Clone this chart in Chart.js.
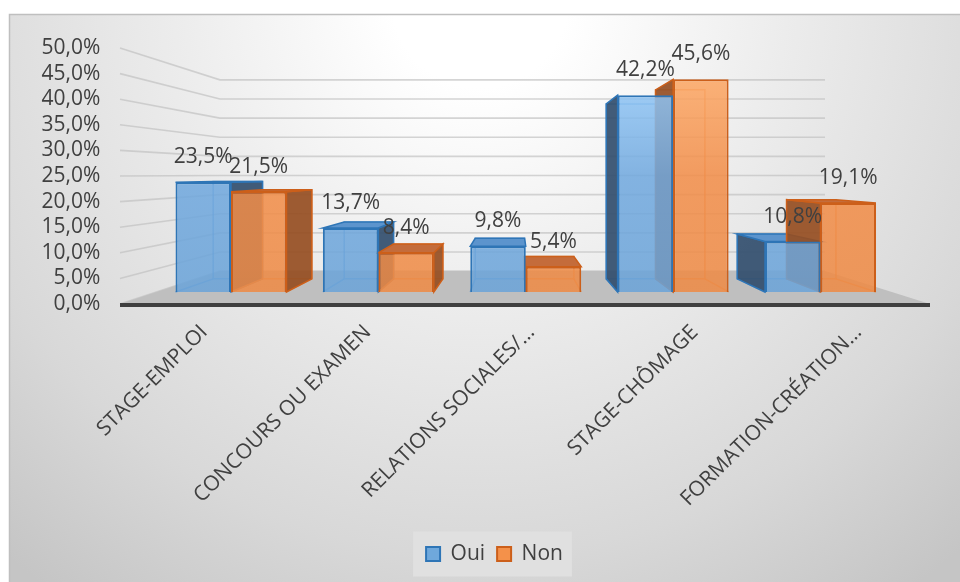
<!DOCTYPE html>
<html>
<head>
<meta charset="utf-8">
<script src="https://cdn.jsdelivr.net/npm/chart.js@4.4.1/dist/chart.umd.min.js"></script>
<style>
  html, body { margin:0; padding:0; background:#fff; }
  #wrap { width:960px; height:582px; }
</style>
</head>
<body>
<div id="wrap"><canvas id="chart" width="960" height="582"></canvas></div>
<script>
const CATEGORIES = ['STAGE-EMPLOI', 'CONCOURS OU EXAMEN', 'RELATIONS SOCIALES/…', 'STAGE-CHÔMAGE', 'FORMATION-CRÉATION…'];
const SERIES_NAMES = ['Oui', 'Non'];
const OUI = [0.235, 0.137, 0.098, 0.422, 0.108];
const NON = [0.215, 0.084, 0.054, 0.456, 0.191];
const Y_MIN = 0, Y_MAX = 0.5, Y_STEP = 0.05;

// perspective of the 3d scene (Excel-like)
const VP = { x:515, y:174 };
const BAR_DEPTH = 0.111, WALL_DEPTH = 0.253;
const WALL_X0 = 120, WALL_X1 = 930;
const FONT = 'Open Sans';
const TEXT = '#404040';

const STYLE = [
  { light:'rgba(158,210,255,0.86)', mid:'rgba(112,168,222,0.86)', base:'rgba(106,163,216,0.86)', border:'#2e75b6', side:'rgba(50,78,110,0.92)', top:'#5c94cd', edge:'rgba(70,140,210,0.6)', legend:'#6fa8dc' },
  { light:'rgba(255,174,108,0.86)', mid:'rgba(242,141,72,0.86)', base:'rgba(238,138,68,0.86)', border:'#cc5f1a', side:'rgba(150,78,34,0.92)', top:'#c46c3b', edge:'rgba(230,130,60,0.65)', legend:'#f4914a' }
];

const pct = v => (v*100).toFixed(1).replace('.', ',') + '%';
const toward = (px, py, t) => [px + t*(VP.x-px), py + t*(VP.y-py)];

function poly(ctx, pts){
  ctx.beginPath();
  ctx.moveTo(pts[0][0], pts[0][1]);
  for(let i=1;i<pts.length;i++) ctx.lineTo(pts[i][0], pts[i][1]);
  ctx.closePath();
}

const grads = {};
function frontFill(i){
  return (c) => {
    const ca = c.chart.chartArea;
    if(!ca) return STYLE[i].base;
    const key = i + ':' + ca.top + ':' + ca.bottom;
    if(!grads[key]){
      const g = c.chart.ctx.createLinearGradient(0, ca.top, 0, ca.bottom);
      g.addColorStop(0, STYLE[i].light);
      g.addColorStop(0.5, STYLE[i].mid);
      g.addColorStop(1, STYLE[i].base);
      grads[key] = g;
    }
    return grads[key];
  };
}

// keep the axes from pushing the plot area around (layout is fixed by hand)
const noPadding = s => { s._calculatePadding = function(){ this.paddingLeft = this.paddingRight = this.paddingTop = this.paddingBottom = 0; }; };

const scene3d = {
  id:'scene3d',
  beforeDraw(chart){
    const ctx = chart.ctx;
    ctx.save();
    ctx.fillStyle = '#fff';
    ctx.fillRect(0, 0, chart.width, chart.height);
    const g = ctx.createRadialGradient(480, 0, 0, 480, 0, 730);
    g.addColorStop(0, '#ffffff');
    g.addColorStop(0.12, '#ffffff');
    g.addColorStop(0.42, '#ececec');
    g.addColorStop(0.76, '#d8d8d8');
    g.addColorStop(1, '#c5c5c5');
    ctx.fillStyle = g;
    ctx.fillRect(9, 15, chart.width-9, chart.height-15);
    ctx.strokeStyle = '#bfbfbf'; ctx.lineWidth = 1.5;
    ctx.strokeRect(9.5, 14.5, chart.width, chart.height);

    // legend background
    const hb = chart.legend && chart.legend.legendHitBoxes;
    if(hb && hb.length){
      const l = Math.min(...hb.map(h=>h.left)), r = Math.max(...hb.map(h=>h.left+h.width));
      const t = Math.min(...hb.map(h=>h.top)), b = Math.max(...hb.map(h=>h.top+h.height));
      ctx.fillStyle = '#e0e0e0';
      ctx.fillRect(l-13, t-12, r-l+22, b-t+24);
    }
    ctx.restore();
  },
  beforeDatasetsDraw(chart){
    const ctx = chart.ctx, ys = chart.scales.y;
    ctx.save();
    // walls with gridlines
    ctx.strokeStyle = 'rgba(190,190,190,0.65)'; ctx.lineWidth = 1.6;
    for(const t of ys.ticks){
      const yf = ys.getPixelForValue(t.value);
      const a = toward(WALL_X0, yf, WALL_DEPTH), b = toward(WALL_X1, yf, WALL_DEPTH);
      ctx.beginPath(); ctx.moveTo(WALL_X0, yf); ctx.lineTo(a[0], a[1]); ctx.lineTo(b[0], a[1]); ctx.stroke();
    }
    // floor
    const y0 = ys.getPixelForValue(0);
    const fl = toward(WALL_X0, y0, WALL_DEPTH), fr = toward(WALL_X1, y0, WALL_DEPTH);
    poly(ctx, [[WALL_X0, y0], [WALL_X1, y0], fr, fl]);
    ctx.fillStyle = '#bfbfbf'; ctx.fill();
    ctx.strokeStyle = '#3f3f3f'; ctx.lineWidth = 4;
    ctx.beginPath(); ctx.moveTo(WALL_X0, y0+1); ctx.lineTo(WALL_X1, y0+1); ctx.stroke();

    // depth of bars: back edges, visible side, top
    for(let c=0;c<CATEGORIES.length;c++){
      for(let d=0; d<chart.data.datasets.length; d++){
        const el = chart.getDatasetMeta(d).data[c];
        if(!el) continue;
        const {x, y, base, width} = el.getProps(['x','y','base','width'], true);
        const s = STYLE[d];
        const L = x-width/2, R = x+width/2, T = y, B = base;
        const bl = toward(L,B,BAR_DEPTH), br = toward(R,B,BAR_DEPTH), tl = toward(L,T,BAR_DEPTH), tr = toward(R,T,BAR_DEPTH);
        ctx.strokeStyle = s.edge; ctx.lineWidth = 1.5;
        poly(ctx, [bl, br, tr, tl]); ctx.stroke();
        ctx.beginPath(); ctx.moveTo(L,B); ctx.lineTo(bl[0],bl[1]); ctx.moveTo(R,B); ctx.lineTo(br[0],br[1]); ctx.stroke();
        ctx.strokeStyle = s.border; ctx.lineWidth = 1.5;
        if(R < VP.x){
          poly(ctx, [[R,T], tr, br, [R,B]]); ctx.fillStyle = s.side; ctx.fill(); ctx.stroke();
        } else if(L > VP.x){
          poly(ctx, [[L,T], tl, bl, [L,B]]); ctx.fillStyle = s.side; ctx.fill(); ctx.stroke();
        }
        if(T > VP.y){
          poly(ctx, [[L,T], [R,T], tr, tl]); ctx.fillStyle = s.top; ctx.fill(); ctx.stroke();
        }
      }
    }
    ctx.restore();
  },
  afterDatasetsDraw(chart){
    const ctx = chart.ctx;
    ctx.save();
    ctx.font = '21px "' + FONT + '"';
    ctx.fillStyle = TEXT; ctx.textAlign = 'center'; ctx.textBaseline = 'middle';
    chart.data.datasets.forEach((ds, d) => {
      chart.getDatasetMeta(d).data.forEach((el, i) => {
        const {x, y} = el.getProps(['x','y'], true);
        ctx.fillText(pct(ds.data[i]), x, y - 25);
      });
    });
    ctx.restore();
  }
};

new Chart(document.getElementById('chart'), {
  type:'bar',
  data:{
    labels: CATEGORIES,
    datasets:[
      { label:SERIES_NAMES[0], data:OUI, backgroundColor:frontFill(0), borderColor:STYLE[0].border, borderWidth:2, xAxisID:'x', yAxisID:'yb', categoryPercentage:0.753, barPercentage:1 },
      { label:SERIES_NAMES[1], data:NON, backgroundColor:frontFill(1), borderColor:STYLE[1].border, borderWidth:2, xAxisID:'x', yAxisID:'yb', categoryPercentage:0.753, barPercentage:1 }
    ]
  },
  options:{
    responsive:false,
    animation:false,
    layout:{ padding:{ left:29, right:0, top:48, bottom:7.5 } },
    scales:{
      x:{ type:'category', display:false, offset:true },
      yb:{ type:'linear', display:false, min:-0.025834, max:0.523146 },
      y:{
        type:'linear', position:'left', min:Y_MIN, max:Y_MAX,
        beforeFit: noPadding,
        afterFit: s => { s.width = 128.3; },
        grid:{ display:false, drawTicks:false }, border:{ display:false },
        ticks:{ stepSize:Y_STEP, autoSkip:false, padding:57, color:TEXT, font:{ family:FONT, size:21 }, callback: v => pct(v) }
      },
      yr:{
        type:'linear', position:'right',
        afterFit: s => { s.width = 65.8; },
        grid:{ display:false, drawTicks:false }, border:{ display:false },
        ticks:{ display:false }
      },
      xl:{
        type:'linear', position:'bottom', offset:false, min:-0.2869, max:4.2202,
        afterBuildTicks: s => { s.ticks = CATEGORIES.map((_, i) => ({ value:i })); },
        beforeFit: noPadding,
        afterFit: s => { s.height = 227.5; },
        grid:{ display:false, drawTicks:false }, border:{ display:false },
        ticks:{ autoSkip:false, minRotation:45, maxRotation:45, padding:16, color:TEXT, font:{ family:FONT, size:21 }, callback: v => CATEGORIES[v] }
      }
    },
    plugins:{
      tooltip:{ enabled:false },
      legend:{
        position:'bottom',
        labels:{
          color:TEXT, font:{ family:FONT, size:21 }, boxWidth:14, boxHeight:14, padding:12,
          generateLabels: () => SERIES_NAMES.map((n, i) => ({ text:n, fillStyle:STYLE[i].legend, strokeStyle:STYLE[i].border, lineWidth:2, hidden:false, datasetIndex:i, fontColor:TEXT }))
        }
      }
    }
  },
  plugins:[scene3d]
});
</script>
</body>
</html>
